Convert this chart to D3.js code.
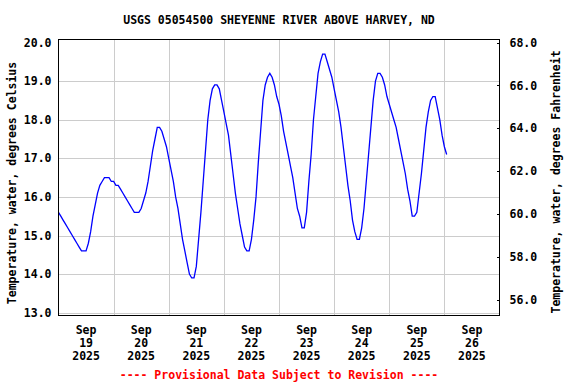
<!DOCTYPE html>
<html>
<head>
<meta charset="utf-8">
<script src="https://cdn.jsdelivr.net/npm/d3@7"></script>
<style>
  html, body { margin: 0; padding: 0; background: #fff; }
  svg { display: block; }
  text { font-family: "DejaVu Sans Mono", monospace; font-weight: bold; font-size: 11.5px; fill: #000; }
</style>
</head>
<body>
<svg id="chart" width="576" height="384"></svg>
<script>
// ---- data (hourly readings starting Sep 19 2025 00:00, degrees Celsius) ----
const startDate = "2025-09-19T00:00:00";
const tempC = [
  15.6, 15.5, 15.4, 15.3, 15.2, 15.1, 15.0, 14.9, 14.8, 14.7,
  14.6, 14.6, 14.6, 14.8, 15.1, 15.5, 15.8, 16.1, 16.3, 16.4,
  16.5, 16.5, 16.5, 16.4, 16.4, 16.3, 16.3, 16.2, 16.1, 16.0,
  15.9, 15.8, 15.7, 15.6, 15.6, 15.6, 15.7, 15.9, 16.1, 16.4,
  16.8, 17.2, 17.5, 17.8, 17.8, 17.7, 17.5, 17.3, 17.0, 16.7,
  16.4, 16.0, 15.7, 15.3, 14.9, 14.6, 14.3, 14.0, 13.9, 13.9,
  14.2, 14.9, 15.6, 16.4, 17.2, 18.0, 18.5, 18.8, 18.9, 18.9,
  18.8, 18.5, 18.2, 17.9, 17.6, 17.1, 16.6, 16.1, 15.7, 15.3,
  15.0, 14.7, 14.6, 14.6, 14.9, 15.4, 16.0, 16.9, 17.7, 18.5,
  18.9, 19.1, 19.2, 19.1, 18.9, 18.6, 18.4, 18.1, 17.7, 17.4,
  17.1, 16.8, 16.5, 16.1, 15.7, 15.5, 15.2, 15.2, 15.6, 16.4,
  17.1, 18.0, 18.6, 19.2, 19.5, 19.7, 19.7, 19.5, 19.3, 19.1,
  18.8, 18.5, 18.2, 17.8, 17.3, 16.8, 16.3, 15.9, 15.4, 15.1,
  14.9, 14.9, 15.2, 15.7, 16.4, 17.1, 17.8, 18.5, 19.0, 19.2,
  19.2, 19.1, 18.9, 18.6, 18.4, 18.2, 18.0, 17.8, 17.5, 17.2,
  16.9, 16.6, 16.2, 15.9, 15.5, 15.5, 15.6, 16.1, 16.6, 17.2,
  17.8, 18.2, 18.5, 18.6, 18.6, 18.3, 18.0, 17.6, 17.3, 17.1
];
const celsiusTicks = [13, 14, 15, 16, 17, 18, 19, 20];
const fahrenheitTicks = [56, 58, 60, 62, 64, 66, 68];
const dayTicks = ["2025-09-19", "2025-09-20", "2025-09-21", "2025-09-22",
                  "2025-09-23", "2025-09-24", "2025-09-25", "2025-09-26"];
const titleText = "USGS 05054500 SHEYENNE RIVER ABOVE HARVEY, ND";
const leftLabel = "Temperature, water, degrees Celsius";
const rightLabel = "Temperature, water, degrees Fahrenheit";
const footerText = "---- Provisional Data Subject to Revision ----";

// ---- build ----
const t0 = new Date(startDate);
const data = tempC.map((v, i) => ({ t: new Date(t0.getTime() + i * 3600e3), v }));
const parseDay = d3.timeParse("%Y-%m-%d");
const days = dayTicks.map(parseDay);

const svg = d3.select("#chart");
const L = 58.5, R = 499.5, T = 39.5, B = 315.5;

const x = d3.scaleTime()
  .domain([parseDay("2025-09-19"), parseDay("2025-09-27")])
  .range([L, R]);
const y = d3.scaleLinear().domain([13, 20]).range([312.7, 42.5]);
const yF = d3.scaleLinear().domain([13 * 1.8 + 32, 20 * 1.8 + 32]).range([312.7, 42.5]);

// gridlines
const grid = svg.append("g").attr("stroke", "#cccccc").attr("stroke-width", 1).attr("shape-rendering", "crispEdges");
grid.selectAll("line.h").data(celsiusTicks.filter(d => d < 20)).enter().append("line")
  .attr("x1", L).attr("x2", R)
  .attr("y1", d => Math.round(y(d)) + 0.5).attr("y2", d => Math.round(y(d)) + 0.5);
grid.selectAll("line.v").data(days.slice(1)).enter().append("line")
  .attr("y1", T).attr("y2", B)
  .attr("x1", d => Math.round(x(d)) + 0.5).attr("x2", d => Math.round(x(d)) + 0.5);

// data line
const line = d3.line().x(d => x(d.t)).y(d => y(d.v)).curve(d3.curveLinear);
svg.append("path").datum(data)
  .attr("d", line)
  .attr("fill", "none")
  .attr("stroke", "#0000ff")
  .attr("stroke-width", 1.3);

// border
svg.append("rect").attr("x", L).attr("y", T).attr("width", R - L).attr("height", B - T)
  .attr("fill", "none").attr("stroke", "#000").attr("stroke-width", 1).attr("shape-rendering", "crispEdges");

// left axis
const leftAxis = d3.axisLeft(y).tickValues(celsiusTicks).tickFormat(d3.format(".1f")).tickSize(0).tickPadding(7);
const gl = svg.append("g").attr("transform", `translate(${L},0)`).call(leftAxis);
gl.select(".domain").remove();
gl.selectAll("text").style("font-family", "DejaVu Sans Mono").style("font-weight", "bold").style("font-size", "11.5px");

// right axis (Fahrenheit), ticks pointing inward
const rightAxis = d3.axisRight(yF).tickValues(fahrenheitTicks).tickFormat(d3.format(".1f")).tickSize(0).tickPadding(10);
const gr = svg.append("g").attr("transform", `translate(${R},0)`).call(rightAxis);
gr.select(".domain").remove();
gr.selectAll(".tick").append("line").attr("x1", -3).attr("x2", 0).attr("stroke", "#000").attr("shape-rendering", "crispEdges");
gr.selectAll("text").style("font-family", "DejaVu Sans Mono").style("font-weight", "bold").style("font-size", "11.5px");

// x labels (centered on each day)
const xl = svg.append("g");
days.forEach(d => {
  const cx = x(d3.timeHour.offset(d, 12));
  const tx = xl.append("text").attr("text-anchor", "middle");
  const lines = [d3.timeFormat("%b")(d), d3.timeFormat("%d")(d), d3.timeFormat("%Y")(d)];
  lines.forEach((s, i) => {
    tx.append("tspan").attr("x", cx).attr("y", 334 + i * 13).text(s);
  });
});

// titles
svg.append("text").attr("x", 279).attr("y", 24).attr("text-anchor", "middle").text(titleText);
svg.append("text").attr("transform", "translate(16,183) rotate(-90)").attr("text-anchor", "middle").text(leftLabel);
svg.append("text").attr("transform", "translate(560,182) rotate(-90)").attr("text-anchor", "middle").text(rightLabel);
svg.append("text").attr("x", 279).attr("y", 379).attr("text-anchor", "middle").style("fill", "#ff0000").text(footerText);
</script>
</body>
</html>
